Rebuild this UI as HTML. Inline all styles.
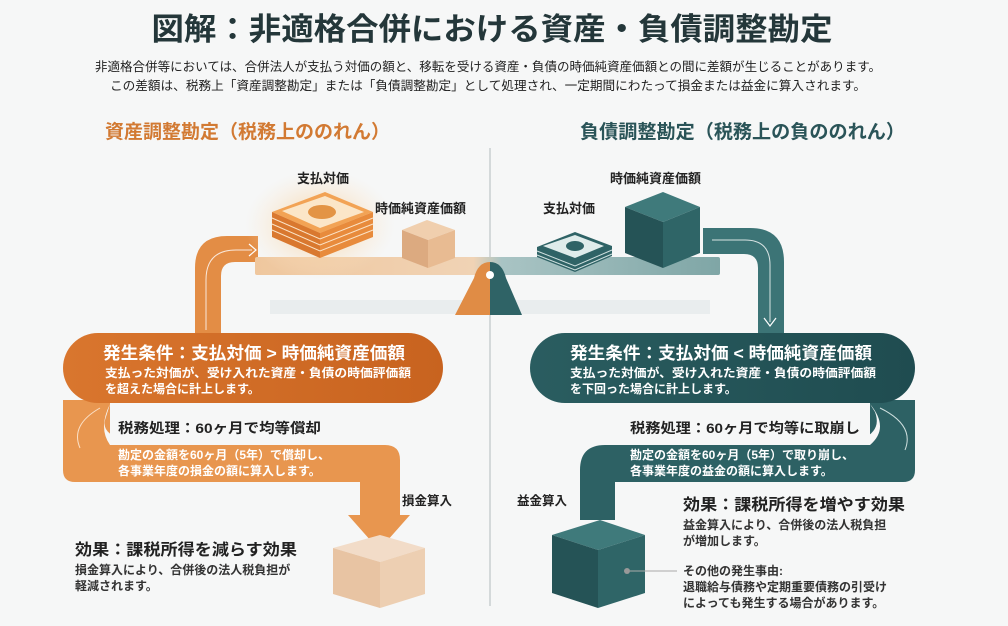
<!DOCTYPE html>
<html><head><meta charset="utf-8"><style>
html,body{margin:0;padding:0;background:#f6f7f7;}
svg{display:block;font-family:"Liberation Sans","Noto Sans CJK JP",sans-serif;}
</style></head><body>
<svg width="1008" height="626" viewBox="0 0 1008 626" xmlns="http://www.w3.org/2000/svg">
<defs>
<radialGradient id="glow" cx="0.5" cy="0.5" r="0.5"><stop offset="0" stop-color="#f7c98c" stop-opacity="0.9"/><stop offset="1" stop-color="#fbe6cc" stop-opacity="0"/></radialGradient>
<linearGradient id="plank" x1="0" x2="1"><stop offset="0" stop-color="#efc79e"/><stop offset="0.47" stop-color="#f0d3b5"/><stop offset="0.53" stop-color="#a9c4c4"/><stop offset="1" stop-color="#7fa6a6"/></linearGradient>
<linearGradient id="og" x1="0" x2="1"><stop offset="0" stop-color="#d9762e"/><stop offset="1" stop-color="#c8631f"/></linearGradient>
<linearGradient id="tg" x1="0" x2="1"><stop offset="0" stop-color="#2a5d60"/><stop offset="1" stop-color="#1f4c50"/></linearGradient>
</defs>
<rect width="1008" height="626" fill="#f6f7f7"/>

<text x="492" y="40" text-anchor="middle" font-size="31" font-weight="bold" fill="#24373a" textLength="681" lengthAdjust="spacingAndGlyphs">図解：非適格合併における資産・負債調整勘定</text>
<text x="488" y="71" text-anchor="middle" font-size="12.5" fill="#222" textLength="786" lengthAdjust="spacingAndGlyphs">非適格合併等においては、合併法人が支払う対価の額と、移転を受ける資産・負債の時価純資産価額との間に差額が生じることがあります。</text>
<text x="488" y="90" text-anchor="middle" font-size="12.5" fill="#222" textLength="756" lengthAdjust="spacingAndGlyphs">この差額は、税務上「資産調整勘定」または「負債調整勘定」として処理され、一定期間にわたって損金または益金に算入されます。</text>

<text x="105" y="138" font-size="19" font-weight="bold" fill="#d27a33" textLength="285" lengthAdjust="spacingAndGlyphs">資産調整勘定（税務上ののれん）</text>
<text x="580" y="138" font-size="19" font-weight="bold" fill="#2a5458" textLength="325" lengthAdjust="spacingAndGlyphs">負債調整勘定（税務上の負ののれん）</text>

<line x1="490" y1="148" x2="490" y2="606" stroke="#c9cfd0" stroke-width="1.5"/>

<!-- left flow band up -->
<path d="M195 340 V268 Q195 236 227 236 H258 V262 H235 Q221 262 221 276 V340 Z" fill="#e38d45"/>
<path d="M206 330 V280 Q206 250 236 250 H252" fill="none" stroke="#fff" stroke-width="1" opacity="0.8"/>
<path d="M249 244 L256 250 L249 256" fill="none" stroke="#fff" stroke-width="1.2"/>

<!-- balance -->
<rect x="255" y="257" width="465" height="18" rx="2" fill="url(#plank)"/>
<rect x="270" y="300" width="440" height="14" fill="#e6eaeb" opacity="0.8"/>
<path d="M490 262 Q478 262 474 278 L455 315 H490 Z" fill="#e08c45"/>
<path d="M490 262 Q502 262 506 278 L522 315 H490 Z" fill="#2f6366"/>
<circle cx="490" cy="275" r="4" fill="#fff"/>

<!-- left money -->
<ellipse cx="320" cy="225" rx="75" ry="55" fill="url(#glow)"/>
<g>
<path d="M272 212 L325 192 L373 212 L320 233 Z" fill="#f2a355"/>
<path d="M272 212 L320 233 L320 258 L272 237 Z" fill="#d9782f"/>
<path d="M320 233 L373 212 L373 237 L320 258 Z" fill="#e88b3c"/>
<g stroke="#fbe3c6" stroke-width="1" fill="none"><path d="M272 218 L320 239 L373 218"/><path d="M272 224 L320 245 L373 224"/><path d="M272 230 L320 251 L373 230"/></g>
<path d="M282 211 L325 196 L364 212 L320 228 Z" fill="#fbe6c8"/>
<ellipse cx="322" cy="212" rx="14" ry="7" fill="#e39445"/>
</g>
<text x="297" y="183" font-size="13" font-weight="bold" fill="#222">支払対価</text>
<text x="375" y="213" font-size="13" font-weight="bold" fill="#222">時価純資産価額</text>
<path d="M402 230 L427 220 L455 230 L428 240 Z" fill="#f0cfae"/>
<path d="M402 230 L428 240 L428 268 L402 258 Z" fill="#dcaa80"/>
<path d="M428 240 L455 230 L455 258 L428 268 Z" fill="#e8bb92"/>

<!-- right money and cube -->
<text x="543" y="213" font-size="13" font-weight="bold" fill="#222">支払対価</text>
<text x="610" y="183" font-size="13" font-weight="bold" fill="#222">時価純資産価額</text>
<path d="M537 247 L575 232 L612 246 L612 256 L575 272 L537 257 Z" fill="#2f6366"/>
<g stroke="#cfe0df" stroke-width="1" fill="none"><path d="M537 251 L575 266 L612 250"/><path d="M537 255 L575 270 L612 254"/></g>
<path d="M543 246 L575 235 L604 246 L575 258 Z" fill="#dfeceb"/>
<ellipse cx="575" cy="246" rx="9" ry="5" fill="#2f6366"/>
<path d="M625 207 L663 192 L700 207 L663 222 Z" fill="#3f7a7b"/>
<path d="M625 207 L663 222 L663 268 L625 253 Z" fill="#255356"/>
<path d="M663 222 L700 207 L700 253 L663 268 Z" fill="#2f6567"/>

<!-- right flow band down -->
<path d="M703 228 H750 Q784 228 784 262 V336 H758 V268 Q758 254 744 254 H703 Z" fill="#3c7476"/>
<path d="M712 240 H745 Q770 240 770 265 V322" fill="none" stroke="#fff" stroke-width="1" opacity="0.8"/>
<path d="M764 318 L770 326 L776 318" fill="none" stroke="#fff" stroke-width="1.2"/>

<!-- left pill and S band -->
<path d="M63 400 V470 Q63 482 75 482 H360 V515 H348 L379 550 L410 515 H400 V460 Q400 445 385 445 H110 V400 Z" fill="#e8964f"/>
<rect x="63" y="333" width="380" height="70" rx="35" fill="url(#og)"/>
<path d="M110 404 Q98 428 110 445 L150 445 Q100 440 105 420" fill="#f6f7f7"/>
<path d="M100 408 Q70 425 80 448" fill="none" stroke="#fbe0c6" stroke-width="1"/>
<text x="103" y="359" font-size="17" font-weight="bold" fill="#fff" textLength="302" lengthAdjust="spacingAndGlyphs">発生条件：支払対価 &gt; 時価純資産価額</text>
<text x="105" y="377" font-size="12" font-weight="bold" fill="#fff" textLength="306" lengthAdjust="spacingAndGlyphs">支払った対価が、受け入れた資産・負債の時価評価額</text>
<text x="105" y="393" font-size="12" font-weight="bold" fill="#fff">を超えた場合に計上します。</text>
<text x="118" y="433" font-size="14" font-weight="bold" fill="#222" textLength="203" lengthAdjust="spacingAndGlyphs">税務処理：60ヶ月で均等償却</text>
<text x="118" y="459" font-size="12" font-weight="bold" fill="#fff">勘定の金額を60ヶ月（5年）で償却し、</text>
<text x="118" y="475" font-size="12" font-weight="bold" fill="#fff">各事業年度の損金の額に算入します。</text>
<text x="402" y="505" font-size="12.5" font-weight="bold" fill="#222">損金算入</text>
<path d="M333 548 L380 535 L425 548 L380 562 Z" fill="#f2dcc8"/>
<path d="M333 548 L380 562 L380 608 L333 594 Z" fill="#e8c4a3"/>
<path d="M380 562 L425 548 L425 594 L380 608 Z" fill="#edcfb2"/>
<text x="75" y="555" font-size="16" font-weight="bold" fill="#222" textLength="222" lengthAdjust="spacingAndGlyphs">効果：課税所得を減らす効果</text>
<text x="75" y="574" font-size="12" font-weight="bold" fill="#333">損金算入により、合併後の法人税負担が</text>
<text x="75" y="590" font-size="12" font-weight="bold" fill="#333">軽減されます。</text>

<!-- right pill and S band -->
<path d="M915 400 V470 Q915 482 903 482 H615 V520 H580 V470 Q580 445 605 445 H870 V400 Z" fill="#2d6164"/>
<rect x="530" y="333" width="385" height="70" rx="35" fill="url(#tg)"/>
<path d="M870 404 Q890 428 870 445 L840 445 Q885 438 875 412" fill="#f6f7f7"/>
<path d="M880 408 Q915 425 905 450" fill="none" stroke="#cfe0df" stroke-width="1"/>
<text x="570" y="359" font-size="17" font-weight="bold" fill="#fff" textLength="302" lengthAdjust="spacingAndGlyphs">発生条件：支払対価 &lt; 時価純資産価額</text>
<text x="570" y="377" font-size="12" font-weight="bold" fill="#fff" textLength="306" lengthAdjust="spacingAndGlyphs">支払った対価が、受け入れた資産・負債の時価評価額</text>
<text x="570" y="393" font-size="12" font-weight="bold" fill="#fff">を下回った場合に計上します。</text>
<text x="630" y="433" font-size="14" font-weight="bold" fill="#222" textLength="230" lengthAdjust="spacingAndGlyphs">税務処理：60ヶ月で均等に取崩し</text>
<text x="630" y="459" font-size="12" font-weight="bold" fill="#fff">勘定の金額を60ヶ月（5年）で取り崩し、</text>
<text x="630" y="475" font-size="12" font-weight="bold" fill="#fff">各事業年度の益金の額に算入します。</text>
<text x="517" y="505" font-size="12.5" font-weight="bold" fill="#222">益金算入</text>
<path d="M552 535 L600 520 L645 535 L598 550 Z" fill="#3f7a7b"/>
<path d="M552 535 L598 550 L598 608 L552 593 Z" fill="#255356"/>
<path d="M598 550 L645 535 L645 593 L598 608 Z" fill="#2f6567"/>
<text x="683" y="510" font-size="16" font-weight="bold" fill="#222" textLength="222" lengthAdjust="spacingAndGlyphs">効果：課税所得を増やす効果</text>
<text x="683" y="529" font-size="12" font-weight="bold" fill="#333">益金算入により、合併後の法人税負担</text>
<text x="683" y="545" font-size="12" font-weight="bold" fill="#333">が増加します。</text>
<circle cx="627" cy="571" r="3" fill="#999"/>
<line x1="630" y1="571" x2="677" y2="571" stroke="#aaa" stroke-width="1"/>
<text x="683" y="575" font-size="12" font-weight="bold" fill="#333">その他の発生事由:</text>
<text x="683" y="591" font-size="12" font-weight="bold" fill="#333">退職給与債務や定期重要債務の引受け</text>
<text x="683" y="607" font-size="12" font-weight="bold" fill="#333">によっても発生する場合があります。</text>
</svg>
</body></html>
